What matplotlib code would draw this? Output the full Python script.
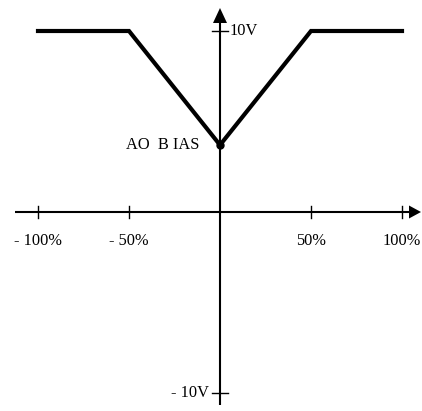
import matplotlib
matplotlib.use("Agg")
import matplotlib.pyplot as plt
from matplotlib.patches import Polygon

# Data
x_pct = [-100, -50, 0, 50, 100]
y_volt = [10, 10, 3.7, 10, 10]
bias_value = 3.7
x_tick_vals = [-100, -50, 50, 100]
x_tick_labels = ["- 100%", "- 50%", "50%", "100%"]
y_tick_vals = [10, -10]
y_tick_labels = ["10V", "- 10V"]

W, H = 422, 411
fig = plt.figure(figsize=(W / 100, H / 100), dpi=100)
ax = fig.add_axes([0, 0, 1, 1])
# pixel mapping: x_px = 220 + 1.82*v ; y_px = 212 - 18.1*V
sx, sy = 1.82, 18.1
ax.set_xlim(-220 / sx, (W - 220) / sx)
ax.set_ylim(-(H - 212) / sy, 212 / sy)
ax.axis("off")

font = dict(family=["Liberation Serif", "DejaVu Serif"], fontsize=11.8, color="black")

# axes lines
ax.plot([-205 / sx, 192 / sx], [0, 0], color="black", lw=1.5, solid_capstyle="butt")
ax.plot([0, 0], [-193 / sy, 190 / sy], color="black", lw=1.5, solid_capstyle="butt")
# arrowheads
ax.add_patch(Polygon([[201 / sx, 0], [189 / sx, 6.5 / sy], [189 / sx, -6.5 / sy]],
                     closed=True, color="black", lw=0))
ax.add_patch(Polygon([[0, 204 / sy], [-7 / sx, 189 / sy], [7 / sx, 189 / sy]],
                     closed=True, color="black", lw=0))

# ticks
for v in x_tick_vals:
    ax.plot([v, v], [-6 / sy, 6 / sy], color="black", lw=1)
for v in y_tick_vals:
    ax.plot([-8 / sx, 8 / sx], [v, v], color="black", lw=1)

# tick labels
for v, lab in zip(x_tick_vals, x_tick_labels):
    ax.text(v, -29 / sy, lab, ha="center", va="center", **font)
ax.text(10 / sx, 10, y_tick_labels[0], ha="left", va="center", **font)
ax.text(-11 / sx, -10, y_tick_labels[1], ha="right", va="center", **font)

# curve
ax.plot(x_pct, y_volt, color="black", lw=3, solid_joinstyle="miter")
ax.plot([0], [bias_value], "o", color="black", ms=5)
ax.text(-21 / sx, bias_value, "AO  B IAS", ha="right", va="center", **font)

fig.savefig("out.png", dpi=100)
